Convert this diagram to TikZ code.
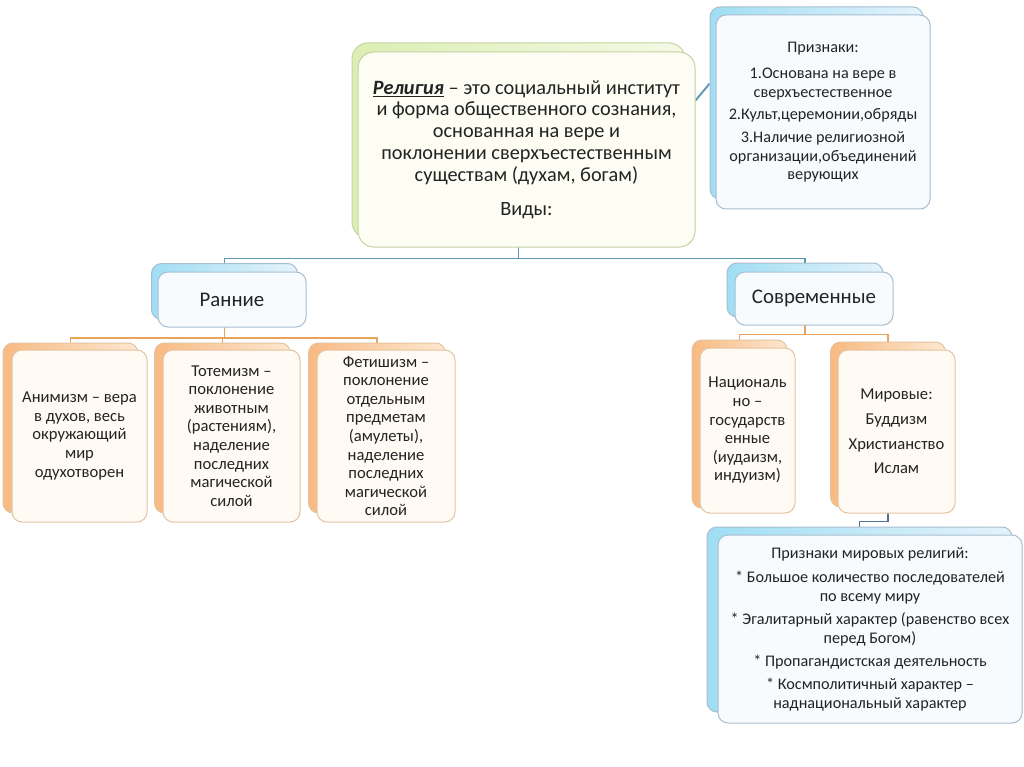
\documentclass[tikz,border=0pt]{standalone}
\usepackage{fontspec}
\setmainfont{Carlito}
\usepackage{tikz}
\usetikzlibrary{positioning,calc,backgrounds}
\definecolor{txt}{RGB}{35,35,35}
\definecolor{grnedge}{RGB}{196,212,160}
\definecolor{grnleft}{RGB}{220,238,180}
\definecolor{grnright}{RGB}{245,249,230}
\definecolor{grnfill}{RGB}{253,253,244}
\definecolor{bluedge}{RGB}{168,190,208}
\definecolor{bluleft}{RGB}{160,222,244}
\definecolor{bluright}{RGB}{228,243,251}
\definecolor{blufill}{RGB}{247,251,254}
\definecolor{orgedge}{RGB}{228,196,160}
\definecolor{orgleft}{RGB}{248,186,130}
\definecolor{orgright}{RGB}{253,232,208}
\definecolor{orgfill}{RGB}{255,250,244}
\definecolor{bluline}{RGB}{92,152,178}
\definecolor{darkline}{RGB}{84,112,150}
\definecolor{orgline}{RGB}{232,164,92}
\tikzset{
  box/.style     ={rectangle, rounded corners=10pt, inner sep=0pt, align=center, line width=1pt, text=txt},
  grnback/.style ={box, draw=grnedge, left color=grnleft, right color=grnright, rounded corners=16pt},
  grnfront/.style={box, draw=grnedge, fill=grnfill, rounded corners=16pt, font=\fontsize{20.3}{21.8}\selectfont},
  bluback/.style ={box, draw=bluedge, left color=bluleft, right color=bluright},
  blufront/.style={box, draw=bluedge, fill=blufill, font=\fontsize{16.2}{18.6}\selectfont},
  orgback/.style ={box, draw=orgedge, left color=orgleft, right color=orgright},
  orgfront/.style={box, draw=orgedge, fill=orgfill, font=\fontsize{16.6}{18.6}\selectfont},
  link/.style    ={line width=1.9pt},
}

\begin{document}
\begin{tikzpicture}[x=1pt, y=-1pt]
  \useasboundingbox (0,0) rectangle (1024,767);

  % main definition
  \node[grnback, minimum width=333pt, minimum height=195pt] (relB) at (518.5,140.5) {};
  \node[grnfront, minimum width=337pt, minimum height=195pt] (rel) at (526.5,149.5)
    {\underline{\textbf{\textit{Религия}}} – это социальный институт\\
     и форма общественного сознания,\\основанная на вере и\\
     поклонении сверхъестественным\\существам (духам, богам)\\[12pt]Виды:};

  % features
  \node[bluback, minimum width=213pt, minimum height=192pt] (prizB) at (816.5,103) {};
  \node[blufront, minimum width=214pt, minimum height=194pt] (priz) at (823,112)
    {Признаки:\\[8pt]1.Основана на вере в\\сверхъестественное\\[4pt]
     2.Культ,церемонии,обряды\\[4pt]3.Наличие религиозной\\
     организации,объединений\\верующих};

  % two kinds
  \node[bluback, minimum width=146pt, minimum height=56pt] (ranB) at (224.5,291.5) {};
  \node[blufront, minimum width=148pt, minimum height=55pt, font=\fontsize{20.8}{22}\selectfont] (ran) at (232,299.5) {Ранние};
  \node[bluback, minimum width=156pt, minimum height=54pt] (sovB) at (805,290) {};
  \node[blufront, minimum width=158pt, minimum height=53pt, font=\fontsize{20.8}{22}\selectfont] (sov) at (814,298.5) {Современные};

  % early religions
  \node[orgback, minimum width=135pt, minimum height=170pt] (animB) at (70.5,428) {};
  \node[orgfront, minimum width=135pt, minimum height=172pt] (anim) at (79.5,436)
    {Анимизм – вера\\в духов, весь\\окружающий\\мир\\одухотворен};
  \node[orgback, minimum width=136pt, minimum height=170pt] (totB) at (222.5,428) {};
  \node[orgfront, minimum width=137pt, minimum height=172pt] (tot) at (231.5,436)
    {Тотемизм –\\поклонение\\животным\\(растениям),\\наделение\\последних\\магической\\силой};
  \node[orgback, minimum width=137pt, minimum height=170pt] (fetB) at (377,428) {};
  \node[orgfront, minimum width=138pt, minimum height=172pt] (fet) at (386,436)
    {Фетишизм –\\поклонение\\отдельным\\предметам\\(амулеты),\\наделение\\последних\\магической\\силой};

  % modern religions
  \node[orgback, minimum width=95pt, minimum height=168pt] (nacB) at (739.5,424) {};
  \node[orgfront, minimum width=95pt, minimum height=165pt] (nac) at (747.5,430.5)
    {Националь\\но –\\государств\\енные\\(иудаизм,\\индуизм)};
  \node[orgback, minimum width=115pt, minimum height=165pt] (mirB) at (888,424.5) {};
  \node[orgfront, minimum width=117pt, minimum height=163pt] (mir) at (896.5,431.5)
    {Мировые:\\[6pt]Буддизм\\[6pt]Христианство\\[6pt]Ислам};

  % world religion features
  \node[bluback, minimum width=305pt, minimum height=185pt] (mfB) at (859.5,619.5) {};
  \node[blufront, minimum width=304pt, minimum height=188pt] (mf) at (870,629)
    {Признаки мировых религий:\\[6pt]* Большое количество последователей\\по всему миру\\[5pt]
     * Эгалитарный характер (равенство всех\\перед Богом)\\[4pt]
     * Пропагандистская деятельность\\[5pt]* Космполитичный характер –\\наднациональный характер};

  \begin{scope}[on background layer]
    \fill[white] (0,0) rectangle (1024,767);
    \draw[link, bluline] (relB.south) -- ++(0,20) -| (ranB.north);
    \draw[link, bluline] (relB.south) -- ++(0,20) -| (sovB.north);
    \draw[link, bluline] ($(rel.north east)!0.25!(rel.south east)$) -- ($(prizB.north west)!0.4!(prizB.south west)$);
    \draw[link, orgline] (ranB.south) -- ++(0,18) -| (animB.north);
    \draw[link, orgline] (ranB.south) -- ++(0,18) -| (totB.north);
    \draw[link, orgline] (ranB.south) -- ++(0,18) -| (fetB.north);
    \draw[link, orgline] (sovB.south) -- ++(0,17) -| (nacB.north);
    \draw[link, orgline] (sovB.south) -- ++(0,17) -| (mirB.north);
    \draw[link, darkline] (mirB.south) -- ++(0,14) -| (mfB.north);
  \end{scope}
\end{tikzpicture}
\end{document}
